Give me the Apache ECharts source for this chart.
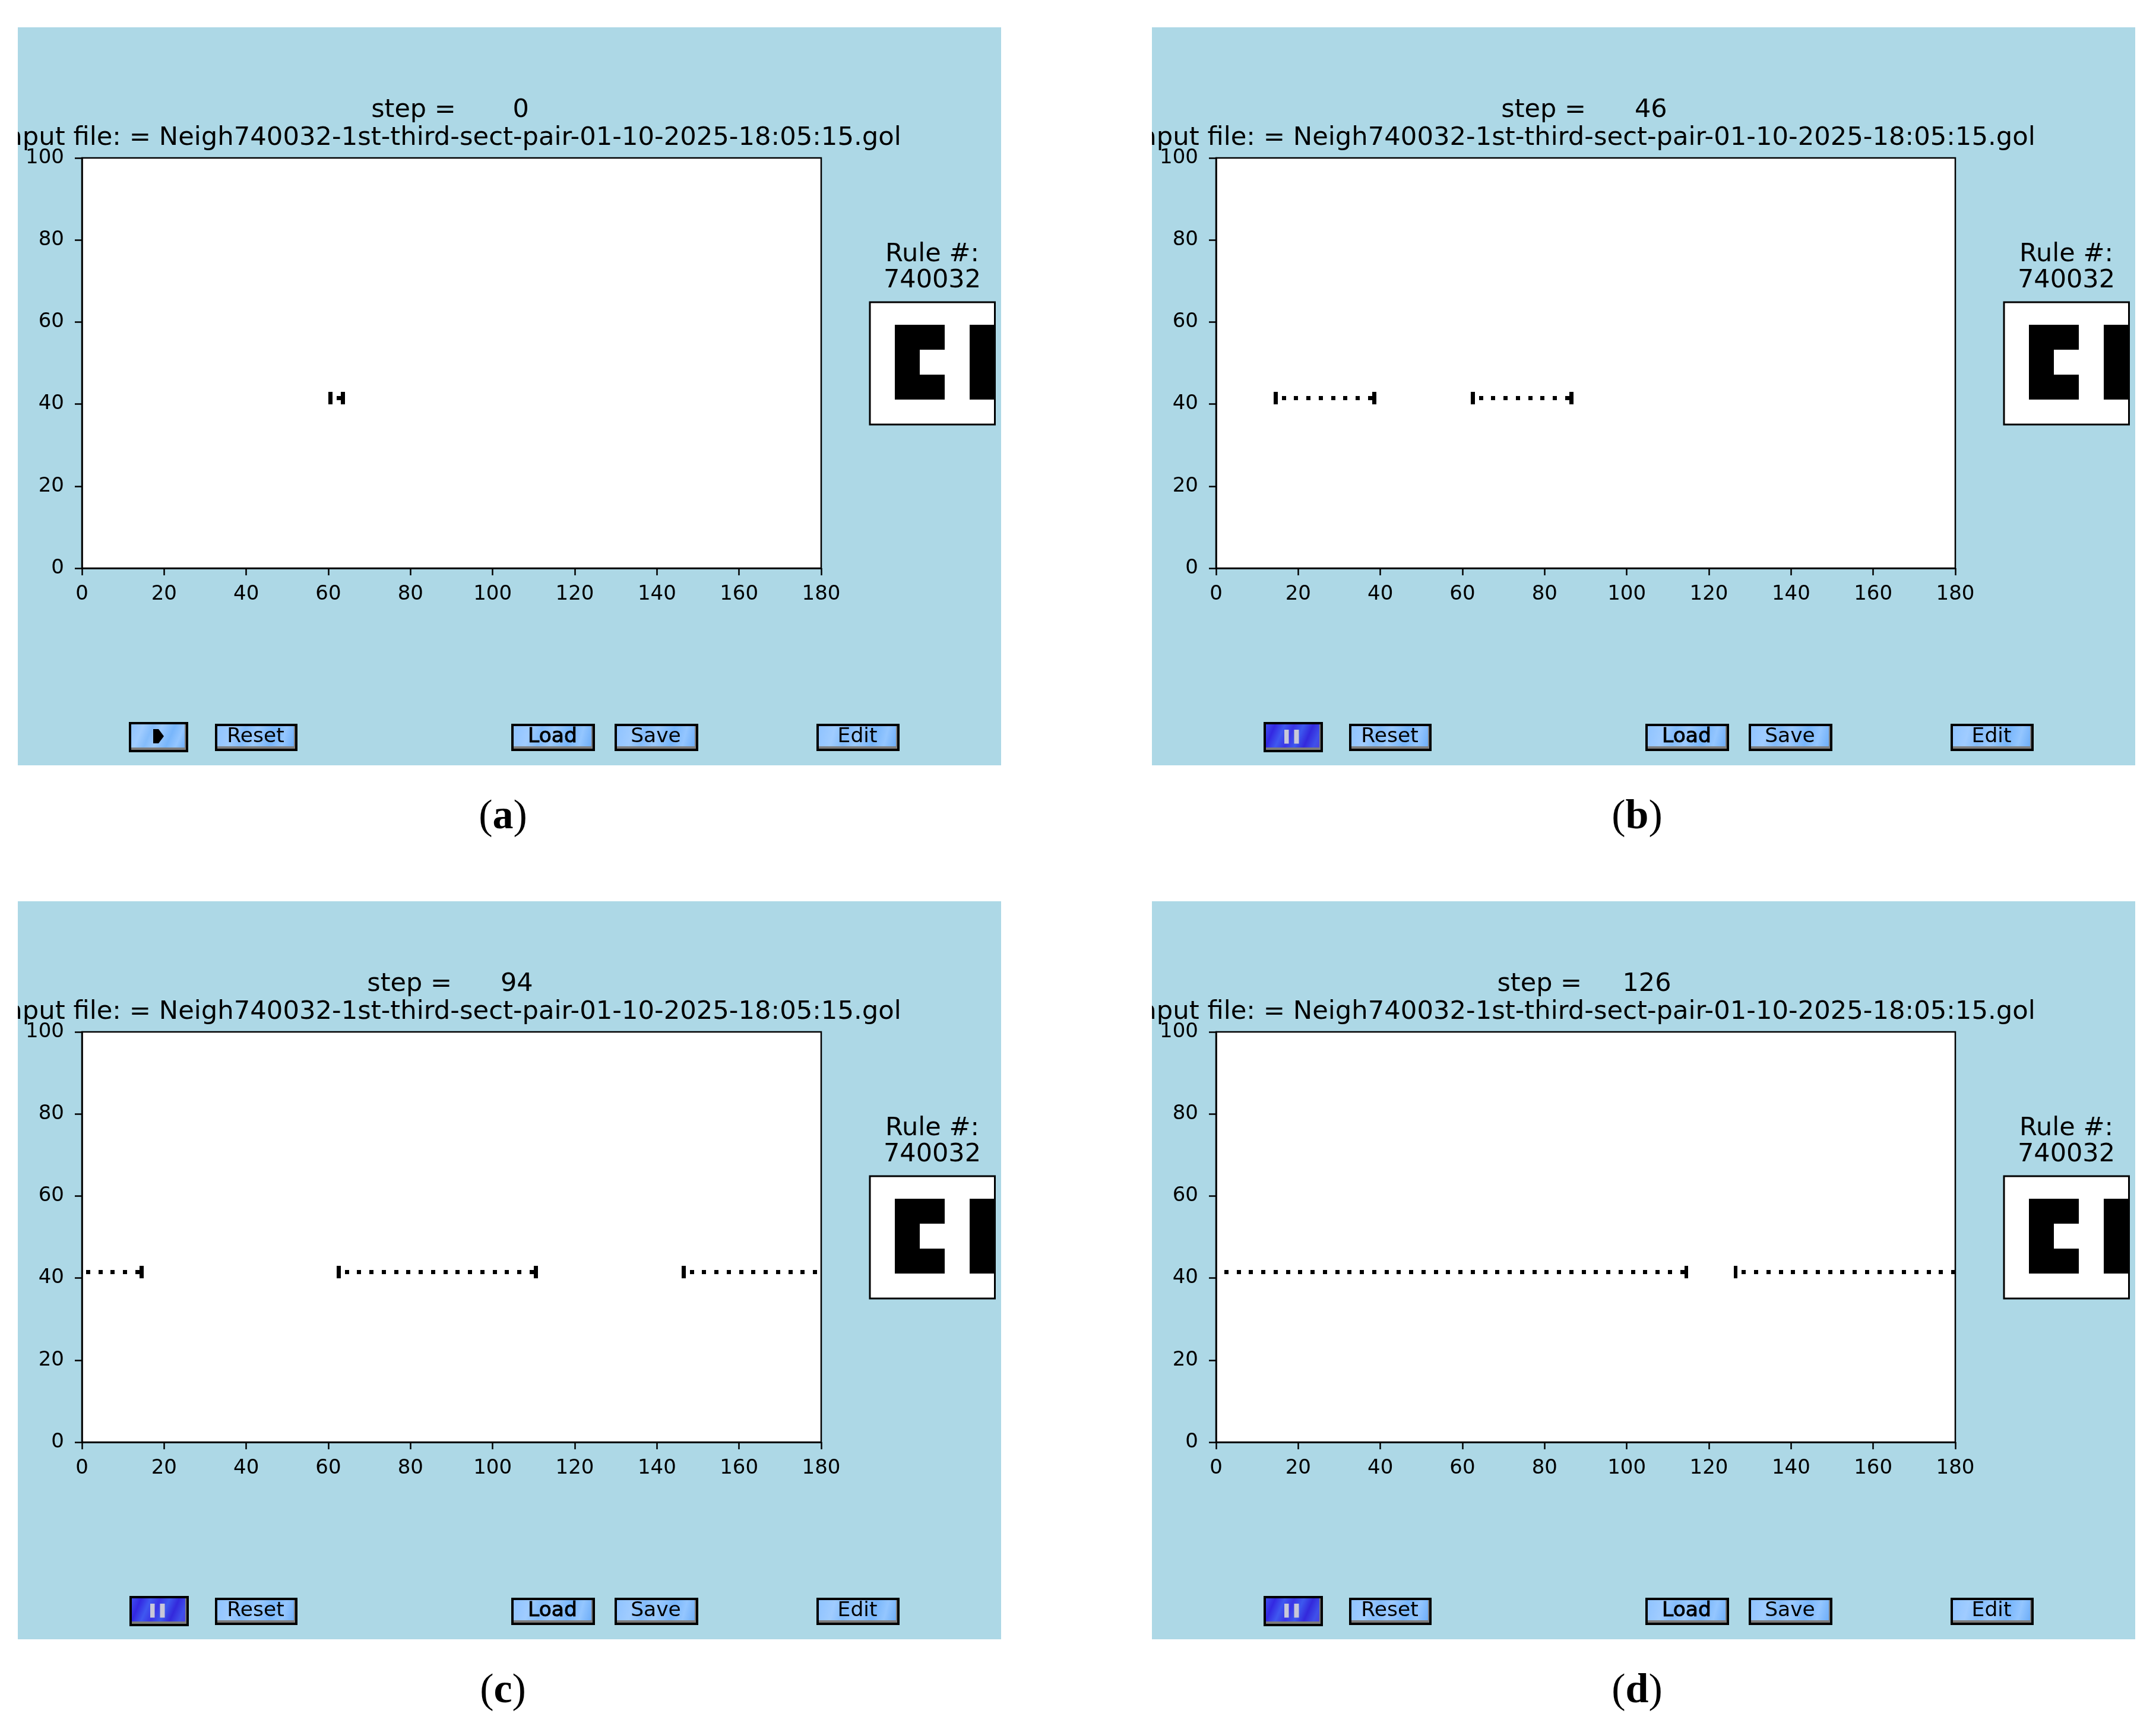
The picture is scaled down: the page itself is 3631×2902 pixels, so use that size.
<!DOCTYPE html>
<html>
<head>
<meta charset="utf-8">
<title>Neigh740032</title>
<script src="https://cdn.jsdelivr.net/npm/echarts@6/dist/echarts.min.js"></script>
<style>
  html, body { margin: 0; padding: 0; background: #fff; }
  #chart { width: 3631px; height: 2902px; }
</style>
</head>
<body>
<div id="chart"></div>
<script>
// tick labels / axis ranges
const xTicks = [0, 20, 40, 60, 80, 100, 120, 140, 160, 180];
const yTicks = [0, 20, 40, 60, 80, 100];

const captions = ["a", "b", "c", "d"];
const steps = [0, 46, 94, 126];
const stepGaps = [7, 6, 6, 5];
const fileName = "input file: = Neigh740032-1st-third-sect-pair-01-10-2025-18:05:15.gol";
const ruleNumber = "740032";
const buttonNames = ["Reset", "Load", "Save", "Edit"];

// glider rows: three cells tall at tall*, one cell at dot*
const tallRows = [40, 41, 42];
const dotRow = 41;
const tallA = [60, 63];
const dotA = [62];
const tallB = [14, 38, 62, 86];
const dotB = [16, 19, 22, 25, 28, 31, 34, 37, 64, 67, 70, 73, 76, 79, 82, 85];
const tallC = [14, 62, 110, 146];
const dotC = [1, 4, 7, 10, 13, 64, 67, 70, 73, 76, 79, 82, 85, 88, 91, 94, 97, 100, 103, 106, 109,
  148, 151, 154, 157, 160, 163, 166, 169, 172, 175, 178];
const tallD = [114, 126];
const dotD = [2, 5, 8, 11, 14, 17, 20, 23, 26, 29, 32, 35, 38, 41, 44, 47, 50, 53, 56, 59, 62, 65, 68, 71,
  74, 77, 80, 83, 86, 89, 92, 95, 98, 101, 104, 107, 110, 113,
  128, 131, 134, 137, 140, 143, 146, 149, 152, 155, 158, 161, 164, 167, 170, 173, 176, 179];
const talls = [tallA, tallB, tallC, tallD];
const dots = [dotA, dotB, dotC, dotD];

// rule neighbourhood thumbnail, [col, row] from top left
const ruleCells = [[1, 1], [2, 1], [4, 1], [1, 2], [4, 2], [1, 3], [2, 3], [4, 3]];

// layout of panel (a), the others are shifted copies
const offsetX = [0, 1910, 0, 1910];
const offsetY = [0, 0, 1472, 1472];
const FONT = "DejaVu Sans";

function cellRenderer(params, api){
  const p0 = api.coord([api.value(0), api.value(1)]);
  const p1 = api.coord([api.value(0) + 1, api.value(1) + 1]);
  // whole pixels, so that neighbouring cells leave no seam
  const x0 = Math.round(Math.min(p0[0], p1[0]));
  const y0 = Math.round(Math.min(p0[1], p1[1]));
  const x1 = Math.round(Math.max(p0[0], p1[0]));
  const y1 = Math.round(Math.max(p0[1], p1[1]));
  return {
    type: "rect",
    shape: { x: x0, y: y0, width: x1 - x0, height: y1 - y0 },
    style: { fill: "#000" }
  };
}

function panelCells(i){
  const cells = dots[i].map((x) => [x, dotRow]);
  talls[i].forEach((x) => {
    tallRows.forEach((y) => cells.push([x, y]));
  });
  return cells;
}

const buttonFill = new echarts.graphic.LinearGradient(0, 0, 1, 1, [
  { offset: 0, color: "#8fc3ff" },
  { offset: 0.2, color: "#a0ccff" },
  { offset: 0.35, color: "#84bcfb" },
  { offset: 0.5, color: "#9ccaff" },
  { offset: 0.7, color: "#78b6fb" },
  { offset: 0.85, color: "#94c6ff" },
  { offset: 1, color: "#6eaef8" }
]);
const pauseFill = new echarts.graphic.LinearGradient(0, 0, 1, 1, [
  { offset: 0, color: "#3f4ff0" },
  { offset: 0.15, color: "#3328e2" },
  { offset: 0.3, color: "#3f58f0" },
  { offset: 0.45, color: "#3a35e6" },
  { offset: 0.6, color: "#3d58ee" },
  { offset: 0.75, color: "#3329dc" },
  { offset: 0.9, color: "#3f50ea" },
  { offset: 1, color: "#4a44e0" }
]);

function button(x, y, w, h, fill){
  return [
    { type: "rect", z: 5, shape: { x, y, width: w, height: h }, style: { fill: "#000" } },
    { type: "rect", z: 6, shape: { x: x + 4, y: y + 4, width: w - 8, height: h - 8 }, style: { fill: "#7c7c7c" } },
    { type: "rect", z: 7, shape: { x: x + 4, y: y + 4, width: w - 10, height: h - 12 }, style: { fill } }
  ];
}

function label(x, y, text, size, extra){
  return {
    type: "text", z: 8, x, y,
    style: Object.assign({
      text, fontFamily: FONT, fontSize: size, fill: "#000",
      textAlign: "center", textVerticalAlign: "middle"
    }, extra || {})
  };
}

const grids = [], xAxes = [], yAxes = [], series = [], graphics = [];

captions.forEach((cap, i) => {
  const dx = offsetX[i], dy = offsetY[i];

  // simulation axes
  grids.push({
    left: 138 + dx, top: 266 + dy, width: 1245, height: 691,
    show: true, backgroundColor: "#fff", borderColor: "#000", borderWidth: 2.5
  });
  xAxes.push({
    type: "value", gridIndex: grids.length - 1, min: xTicks[0], max: xTicks[xTicks.length - 1], interval: 20,
    splitLine: { show: false },
    axisLine: { show: true, onZero: false, lineStyle: { color: "#000", width: 2.5 } },
    axisTick: { show: true, length: 12, lineStyle: { color: "#000", width: 2.5 } },
    axisLabel: { color: "#000", fontFamily: FONT, fontSize: 34, margin: 27, showMinLabel: true, showMaxLabel: true }
  });
  yAxes.push({
    type: "value", gridIndex: grids.length - 1, min: yTicks[0], max: yTicks[yTicks.length - 1], interval: 20,
    splitLine: { show: false },
    axisLine: { show: true, onZero: false, lineStyle: { color: "#000", width: 2.5 } },
    axisTick: { show: true, length: 12, lineStyle: { color: "#000", width: 2.5 } },
    axisLabel: { color: "#000", fontFamily: FONT, fontSize: 34, margin: 30, showMinLabel: true, showMaxLabel: true }
  });
  series.push({
    type: "custom", xAxisIndex: grids.length - 1, yAxisIndex: grids.length - 1,
    renderItem: cellRenderer, data: panelCells(i), clip: true, silent: true, animation: false
  });

  // rule thumbnail
  grids.push({
    left: 1465 + dx, top: 509 + dy, width: 210.5, height: 206,
    show: true, backgroundColor: "#fff", borderColor: "#000", borderWidth: 3
  });
  xAxes.push({ type: "value", gridIndex: grids.length - 1, min: 0, max: 5, show: false });
  yAxes.push({ type: "value", gridIndex: grids.length - 1, min: 0.1, max: 5, inverse: true, show: false });
  series.push({
    type: "custom", xAxisIndex: grids.length - 1, yAxisIndex: grids.length - 1,
    renderItem: cellRenderer, data: ruleCells, clip: true, silent: true, animation: false
  });

  // blue figure background
  graphics.push({
    type: "rect", z: -10,
    shape: { x: 30 + dx, y: 46 + dy, width: 1656, height: 1243 },
    style: { fill: "#add8e6" }
  });

  // titles
  graphics.push(label(758 + dx, 186 + dy, "step =" + " ".repeat(stepGaps[i]) + steps[i], 43));
  graphics.push(label(758 + dx, 233 + dy, fileName, 43.3));
  // the long title is cut at the figure edge
  graphics.push({
    type: "rect", z: 9,
    shape: { x: dx === 0 ? 0 : 1686, y: 46 + dy, width: dx === 0 ? 30 : 254, height: 1243 },
    style: { fill: "#fff" }
  });
  graphics.push(label(1570 + dx, 429 + dy, "Rule #:", 43));
  graphics.push(label(1570 + dx, 473 + dy, ruleNumber, 43));

  // play or pause button
  if(i === 0){
    graphics.push(...button(217, 1216, 100, 51, buttonFill));
    graphics.push({
      type: "polygon", z: 8,
      shape: { points: [[258, 1228], [267, 1228], [276, 1240], [267, 1252], [258, 1252]] },
      style: { fill: "#000" }
    });
  }else{
    graphics.push(...button(218 + dx, 1216 + dy, 100, 51, pauseFill));
    graphics.push({ type: "rect", z: 8, shape: { x: 253 + dx, y: 1229 + dy, width: 7.5, height: 23.5 }, style: { fill: "#c8c8d8" } });
    graphics.push({ type: "rect", z: 8, shape: { x: 269.5 + dx, y: 1229 + dy, width: 8, height: 23.5 }, style: { fill: "#c8c8d8" } });
  }

  const buttonLeft = [362, 861, 1035, 1375];
  const buttonWidth = [139, 141, 141, 140];
  buttonNames.forEach((name, k) => {
    const x = buttonLeft[k] + dx;
    graphics.push(...button(x, 1219 + dy, buttonWidth[k], 46, buttonFill));
    const extra = name === "Load" ? { stroke: "#000", lineWidth: 1 } : {};
    graphics.push(label(x + buttonWidth[k] / 2 - 1, 1241 + dy, name, 34.5, extra));
  });

  // sub-caption
  graphics.push({
    type: "text", z: 8, x: 847 + dx, y: 1377 + dy,
    style: {
      text: "{p|(}{b|" + cap + "}{p|)}",
      textAlign: "center", textVerticalAlign: "middle",
      rich: {
        p: { fontFamily: "Liberation Serif", fontSize: 70, fontWeight: "normal", fill: "#000" },
        b: { fontFamily: "Liberation Serif", fontSize: 70, fontWeight: "bold", fill: "#000" }
      }
    }
  });
});

const chart = echarts.init(document.getElementById("chart"), null, { renderer: "canvas" });
chart.setOption({
  animation: false,
  backgroundColor: "#fff",
  grid: grids,
  xAxis: xAxes,
  yAxis: yAxes,
  series,
  graphic: { elements: graphics }
});
</script>
</body>
</html>
